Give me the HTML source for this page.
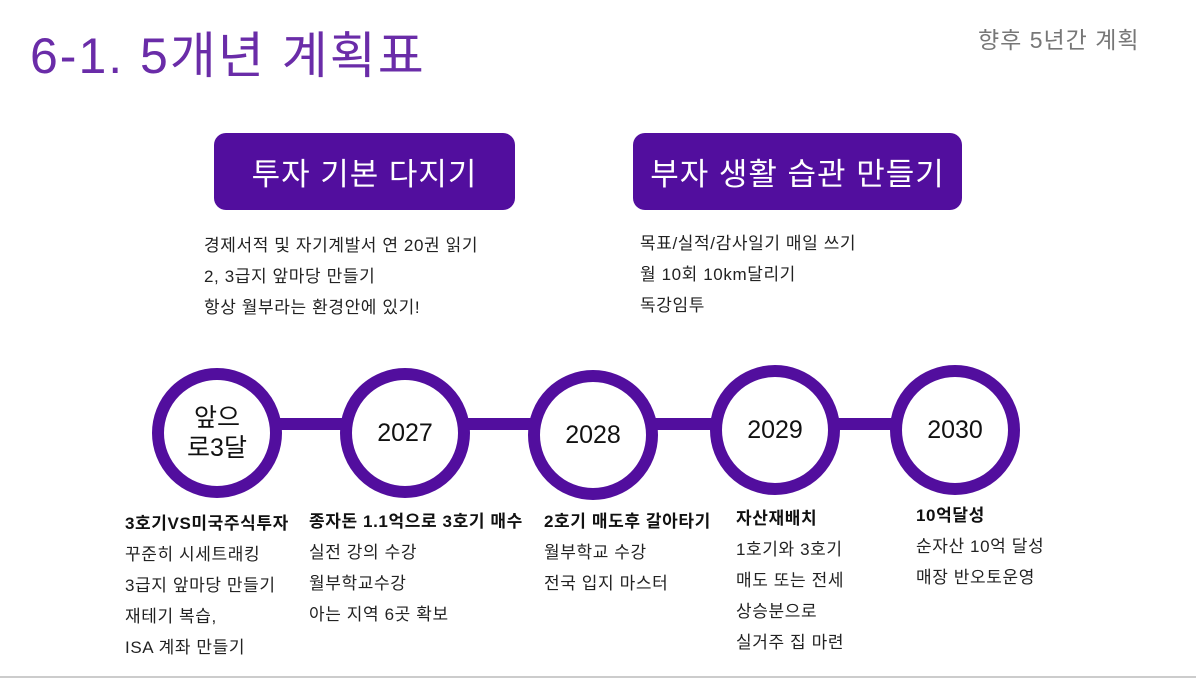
<!DOCTYPE html>
<html><head><meta charset="utf-8"><style>
body{margin:0;width:1196px;height:678px;background:#fff;position:relative;overflow:hidden;font-family:"Liberation Sans","Noto Sans CJK KR",sans-serif;}
.a{position:absolute;white-space:nowrap;}
.box{position:absolute;background:#520e9e;border-radius:12px;color:#fff;font-size:31px;letter-spacing:1px;display:flex;align-items:center;justify-content:center;}
.c{position:absolute;width:106px;height:106px;border:12px solid #520e9e;border-radius:50%;background:#fff;display:flex;align-items:center;justify-content:center;font-size:25px;color:#111;text-align:center;line-height:1.2;}
.t{position:absolute;font-size:17px;letter-spacing:0.6px;color:#222;line-height:31px;white-space:nowrap;}
.t b{color:#111;}
</style></head><body>
<div class="a" style="left:30px;top:16px;font-size:50px;letter-spacing:2px;color:#6a2ca8;">6-1. 5개년 계획표</div>
<div class="a" style="left:978px;top:21px;font-size:23px;letter-spacing:1px;color:#777;">향후 5년간 계획</div>
<div class="box" style="left:214px;top:133px;width:301px;height:77px;">투자 기본 다지기</div>
<div class="box" style="left:633px;top:133px;width:329px;height:77px;">부자 생활 습관 만들기</div>
<div class="t" style="left:204px;top:230px;">경제서적 및 자기계발서 연 20권 읽기<br>2, 3급지 앞마당 만들기<br>항상 월부라는 환경안에 있기!</div>
<div class="t" style="left:640px;top:228px;">목표/실적/감사일기 매일 쓰기<br>월 10회 10km달리기<br>독강임투</div>
<div style="position:absolute;left:217px;top:418px;width:738px;height:12px;background:#520e9e;"></div>
<div class="c" style="left:152px;top:368px;">앞으<br>로3달</div>
<div class="c" style="left:340px;top:368px;">2027</div>
<div class="c" style="left:528px;top:370px;">2028</div>
<div class="c" style="left:710px;top:365px;">2029</div>
<div class="c" style="left:890px;top:365px;">2030</div>
<div class="t" style="left:125px;top:508px;"><b>3호기VS미국주식투자</b><br>꾸준히 시세트래킹<br>3급지 앞마당 만들기<br>재테기 복습,<br>ISA 계좌 만들기</div>
<div class="t" style="left:309px;top:506px;"><b>종자돈 1.1억으로 3호기 매수</b><br>실전 강의 수강<br>월부학교수강<br>아는 지역 6곳 확보</div>
<div class="t" style="left:544px;top:506px;"><b>2호기 매도후 갈아타기</b><br>월부학교 수강<br>전국 입지 마스터</div>
<div class="t" style="left:736px;top:503px;"><b>자산재배치</b><br>1호기와 3호기<br>매도 또는 전세<br>상승분으로<br>실거주 집 마련</div>
<div class="t" style="left:916px;top:500px;"><b>10억달성</b><br>순자산 10억 달성<br>매장 반오토운영</div>
<div style="position:absolute;left:0;top:676px;width:1196px;height:2px;background:#ccc;"></div>
</body></html>
